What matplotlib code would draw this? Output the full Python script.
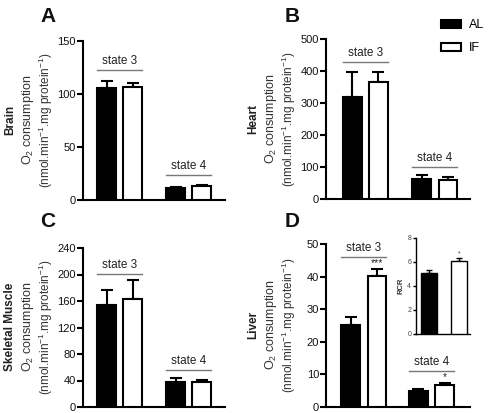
import matplotlib
matplotlib.use("Agg")
import matplotlib.pyplot as plt
from matplotlib.patches import Patch

plt.rcParams['font.family'] = ['Liberation Sans', 'DejaVu Sans']
plt.rcParams['mathtext.fontset'] = 'custom'
plt.rcParams['mathtext.rm'] = 'Liberation Sans'
plt.rcParams['mathtext.it'] = 'Liberation Sans:italic'
plt.rcParams['mathtext.bf'] = 'Liberation Sans:bold'

groups = ["AL", "IF"]
states = ["state 3", "state 4"]

brain_mean = {"AL": [106, 11], "IF": [107, 13]}
brain_err = {"AL": [6, 1.2], "IF": [3.5, 1.0]}
heart_mean = {"AL": [320, 62], "IF": [365, 60]}
heart_err = {"AL": [77, 12], "IF": [33, 10]}
muscle_mean = {"AL": [154, 38], "IF": [163, 38]}
muscle_err = {"AL": [23, 6], "IF": [28, 3]}
liver_mean = {"AL": [25.2, 5.0], "IF": [40.3, 6.7]}
liver_err = {"AL": [2.3, 0.4], "IF": [2.0, 0.6]}
rcr_mean = {"AL": [5.05], "IF": [6.05]}
rcr_err = {"AL": [0.25], "IF": [0.3]}

liver_stars = {"AL": ["", ""], "IF": ["***", "*"]}
rcr_stars = {"AL": [""], "IF": ["*"]}

W, H = 488, 413
fig = plt.figure(figsize=(W / 100, H / 100), dpi=100)


def fbox(l, t, r, b):
    return [l / W, 1 - b / H, (r - l) / W, (b - t) / H]


face = {"AL": "black", "IF": "white"}
LW = 1.5


def draw_panel(ax, mean, err, centers, width, ylim, yticks, state_y, text_y, stars=None, star_y=None):
    for j, g in enumerate(groups):
        off = -0.5 if g == "AL" else 0.5
        xs = [c + off for c in centers]
        ax.errorbar(xs, mean[g], yerr=[[0] * len(xs), err[g]], fmt='none',
                    ecolor='black', elinewidth=LW, capsize=4, capthick=LW, zorder=2)
        ax.bar(xs, mean[g], width=width, color=face[g], edgecolor='black',
               linewidth=LW, zorder=3)
        if stars is not None:
            for x, m, e, s in zip(xs, mean[g], err[g], stars[g]):
                if s:
                    ax.text(x, m + e + star_y, s, ha='center', va='bottom',
                            fontsize=7.5, color='#222222')
    for c, sy, ty, lab in zip(centers, state_y, text_y, states):
        ax.plot([c - 0.5 - width / 2, c + 0.5 + width / 2], [sy, sy],
                color='#777777', lw=1.0, clip_on=False)
        ax.text(c, ty, lab, ha='center', va='bottom', fontsize=8.5, color='#222222')
    ax.set_xlim(0, 5.5)
    ax.set_ylim(*ylim)
    ax.set_yticks(yticks)
    ax.set_xticks([])
    for s in ['top', 'right']:
        ax.spines[s].set_visible(False)
    for s in ['left', 'bottom']:
        ax.spines[s].set_linewidth(LW)
    ax.tick_params(axis='y', width=LW, length=4, labelsize=8, pad=1,
                   labelcolor='#111111')


def ylabels(spine_x, ycen, organ):
    fig.text((spine_x - 73) / W, 1 - ycen / H, organ, rotation=90, ha='center',
             va='center', fontsize=8.5, fontweight='bold', color='#222222')
    fig.text((spine_x - 55) / W, 1 - ycen / H, "O$_2$ consumption", rotation=90,
             ha='center', va='center', fontsize=9, color='#333333')
    fig.text((spine_x - 37) / W, 1 - ycen / H,
             "(nmol.min$^{-1}$.mg protein$^{-1}$)", rotation=90,
             ha='center', va='center', fontsize=8.5, color='#333333')


axA = fig.add_axes(fbox(83, 41, 225, 200))
draw_panel(axA, brain_mean, brain_err, [1.42, 4.1], 0.74, (0, 150),
           [0, 50, 100, 150], [122.5, 23.5], [125.5, 26.5])
axB = fig.add_axes(fbox(326, 39, 470, 199))
draw_panel(axB, heart_mean, heart_err, [1.5, 4.16], 0.72, (0, 500),
           [0, 100, 200, 300, 400, 500], [428, 100], [438, 110])
axC = fig.add_axes(fbox(83, 248, 225, 407))
draw_panel(axC, muscle_mean, muscle_err, [1.42, 4.1], 0.74, (0, 240),
           [0, 40, 80, 120, 160, 200, 240], [201, 56], [206, 61])
axD = fig.add_axes(fbox(326, 244, 470, 407))
draw_panel(axD, liver_mean, liver_err, [1.45, 4.03], 0.72, (0, 50),
           [0, 10, 20, 30, 40, 50], [46, 11], [47, 12], stars=liver_stars, star_y=0.3)

# inset RCR
axI = fig.add_axes(fbox(416, 238, 470, 334))
for g, x in zip(groups, [0.8, 2.7]):
    axI.errorbar([x], rcr_mean[g], yerr=[[0], rcr_err[g]], fmt='none', ecolor='black',
                 elinewidth=1.0, capsize=2.5, capthick=1.0, zorder=2)
    axI.bar([x], rcr_mean[g], width=1.0, color=face[g], edgecolor='black',
            linewidth=1.0, zorder=3)
    for m, e, s in zip(rcr_mean[g], rcr_err[g], rcr_stars[g]):
        if s:
            axI.text(x, m + e + 0.05, s, ha='center', va='bottom', fontsize=5,
                     color='#444444')
axI.set_xlim(0, 3.4)
axI.set_ylim(0, 8)
axI.set_yticks([0, 2, 4, 6, 8])
axI.set_xticks([])
for s in ['top', 'right']:
    axI.spines[s].set_visible(False)
for s in ['left', 'bottom']:
    axI.spines[s].set_linewidth(1.0)
axI.tick_params(axis='y', width=1.0, length=2.5, labelsize=5, pad=1, labelcolor='#444444')
axI.set_ylabel("RCR", fontsize=5.5, fontweight='bold', labelpad=2, color='#333333')

ylabels(83, 120, "Brain")
ylabels(326, 119, "Heart")
ylabels(83, 327, "Skeletal Muscle")
ylabels(326, 325, "Liver")

for lab, x, y in [("A", 40, 16), ("B", 285, 16), ("C", 40, 222), ("D", 285, 222)]:
    fig.text(x / W, 1 - y / H, lab, fontsize=15, fontweight='bold', ha='left',
             va='center', color='#111111')

handles = [Patch(facecolor=face[g], edgecolor='black', linewidth=LW) for g in groups]
fig.legend(handles, groups, loc='upper left', bbox_to_anchor=(441 / W, 1 - 19 / H),
           frameon=False, fontsize=9, handlelength=1.6, handleheight=0.6,
           labelspacing=0.9, handletextpad=0.6, borderaxespad=0, borderpad=0)

fig.savefig("out.png", dpi=100)
